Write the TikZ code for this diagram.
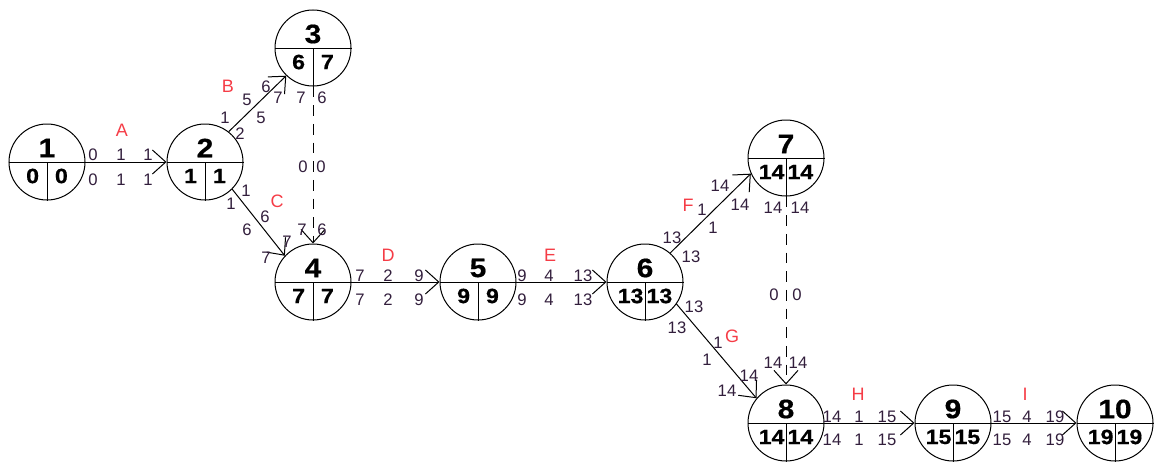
\documentclass[tikz,border=0pt]{standalone}
\usepackage{fontspec}
\setmainfont{Liberation Sans}
\newfontfamily\evfont{Liberation Sans Bold}[FakeBold=0.6, FakeStretch=1.12]
\usetikzlibrary{arrows.meta}
\usepackage{xcolor}

\definecolor{numcol}{RGB}{50,30,60}
\definecolor{actcol}{RGB}{245,60,70}

% event circle: name, position, number, earliest, latest
\newcommand{\eventnode}[5]{%
  \node[event] (#1) at (#2) {};
  \draw (#1.west) -- (#1.east) (#1.center) -- (#1.south);
  \node[evtop] (#1t) at ([yshift=10.5pt]#1.center) {#3};
  \node[evbot] (#1l) at ([xshift=-10.8pt,yshift=-10.5pt]#1.center) {#4};
  \node[evbot] (#1r) at ([xshift=10.8pt,yshift=-10.5pt]#1.center) {#5};
}

\begin{document}
\begin{tikzpicture}[
    x=0.75pt, y=-0.75pt,
    event/.style={draw, circle, minimum size=57pt, inner sep=0pt, line width=0.75pt},
    evtop/.style={font=\evfont\fontsize{20}{20}\selectfont, inner sep=0pt},
    evbot/.style={font=\evfont\fontsize{15.5}{15.5}\selectfont, inner sep=0pt},
    num/.style={font=\fontsize{12.5}{12.5}\selectfont, text=numcol, inner sep=0pt},
    act/.style={font=\fontsize{13.5}{13.5}\selectfont, text=actcol, inner sep=0pt},
    arr/.style={-{Straight Barb[length=10pt, width=18pt]}, line width=0.75pt},
    dummy/.style={arr, dash pattern=on 8pt off 6pt}
  ]
  \useasboundingbox (0,0) rectangle (1157,464);

  \eventnode{n1}{47,162}{1}{0}{0}
  \eventnode{n2}{205,162}{2}{1}{1}
  \eventnode{n3}{313,48}{3}{6}{7}
  \eventnode{n4}{313,282}{4}{7}{7}
  \eventnode{n5}{478,282}{5}{9}{9}
  \eventnode{n6}{645,282}{6}{13}{13}
  \eventnode{n7}{786,158}{7}{14}{14}
  \eventnode{n8}{786,423}{8}{14}{14}
  \eventnode{n9}{953,423}{9}{15}{15}
  \eventnode{n10}{1115,423}{10}{19}{19}

  \draw[arr] (n1) -- (n2);
  \draw[arr] (n2.52) -- (n3.226);
  \draw[arr] (n2.315) -- (n4.137);
  \draw[dummy] (n3) -- (n4);
  \draw[arr] (n4) -- (n5);
  \draw[arr] (n5) -- (n6);
  \draw[arr] (n6.49) -- (n7.204);
  \draw[arr] (n6.325) -- (n8.140);
  \draw[dummy] (n7) -- (n8);
  \draw[arr] (n8) -- (n9);
  \draw[arr] (n9) -- (n10);

  % A
  \node[act] (la) at (122,130) {A};
  \node[num] (a1) at (93,155) {0};  \node[num] (a2) at (121,155) {1};  \node[num] (a3) at (148,155) {1};
  \node[num] (a4) at (93,180) {0};  \node[num] (a5) at (121,180) {1};  \node[num] (a6) at (148,180) {1};
  % B
  \node[act] (lb) at (228,86) {B};
  \node[num] (b1) at (225,118) {1};  \node[num] (b2) at (247,100) {5};  \node[num] (b3) at (266,87) {6};
  \node[num] (b4) at (240,134) {2};  \node[num] (b5) at (261,118) {5};  \node[num] (b6) at (278,98) {7};
  % dummy 3-4
  \node[num] (d1) at (301,98) {7};   \node[num] (d2) at (322,98) {6};
  \node[num] (d3) at (303,167) {0};  \node[num] (d4) at (321,167) {0};
  \node[num] (d5) at (302,230) {7};  \node[num] (d6) at (322,230) {6};
  % C
  \node[act] (lc) at (277,201) {C};
  \node[num] (c1) at (246,191) {1};  \node[num] (c2) at (265,217) {6};  \node[num] (c3) at (287,242) {7};
  \node[num] (c4) at (231,204) {1};  \node[num] (c5) at (247,230) {6};  \node[num] (c6) at (266,258) {7};
  % D
  \node[act] (ld) at (388,255) {D};
  \node[num] (e1) at (360,276) {7};  \node[num] (e2) at (388,276) {2};  \node[num] (e3) at (419,276) {9};
  \node[num] (e4) at (360,300) {7};  \node[num] (e5) at (388,300) {2};  \node[num] (e6) at (419,300) {9};
  % E
  \node[act] (le) at (550,255) {E};
  \node[num] (f1) at (522,276) {9};  \node[num] (f2) at (549,276) {4};  \node[num] (f3) at (583,276) {13};
  \node[num] (f4) at (522,300) {9};  \node[num] (f5) at (549,300) {4};  \node[num] (f6) at (583,300) {13};
  % F
  \node[act] (lf) at (688,205) {F};
  \node[num] (g1) at (672,238) {13};  \node[num] (g2) at (702,210) {1};  \node[num] (g3) at (720,186) {14};
  \node[num] (g4) at (691,257) {13};  \node[num] (g5) at (713,228) {1};  \node[num] (g6) at (740,205) {14};
  % dummy 7-8
  \node[num] (h1) at (773,208) {14};  \node[num] (h2) at (800,208) {14};
  \node[num] (h3) at (774,295) {0};   \node[num] (h4) at (797,295) {0};
  \node[num] (h5) at (773,363) {14};  \node[num] (h6) at (798,363) {14};
  % G
  \node[act] (lg) at (732,336) {G};
  \node[num] (k1) at (694,307) {13};  \node[num] (k2) at (718,343) {1};  \node[num] (k3) at (749,376) {14};
  \node[num] (k4) at (677,328) {13};  \node[num] (k5) at (707,360) {1};  \node[num] (k6) at (727,391) {14};
  % H
  \node[act] (lh) at (858,394) {H};
  \node[num] (m1) at (832,417) {14};  \node[num] (m2) at (859,417) {1};  \node[num] (m3) at (887,417) {15};
  \node[num] (m4) at (832,440) {14};  \node[num] (m5) at (859,440) {1};  \node[num] (m6) at (887,440) {15};
  % I
  \node[act] (li) at (1025,394) {I};
  \node[num] (p1) at (1002,417) {15};  \node[num] (p2) at (1027,417) {4};  \node[num] (p3) at (1055,417) {19};
  \node[num] (p4) at (1002,440) {15};  \node[num] (p5) at (1027,440) {4};  \node[num] (p6) at (1055,440) {19};
\end{tikzpicture}
\end{document}
